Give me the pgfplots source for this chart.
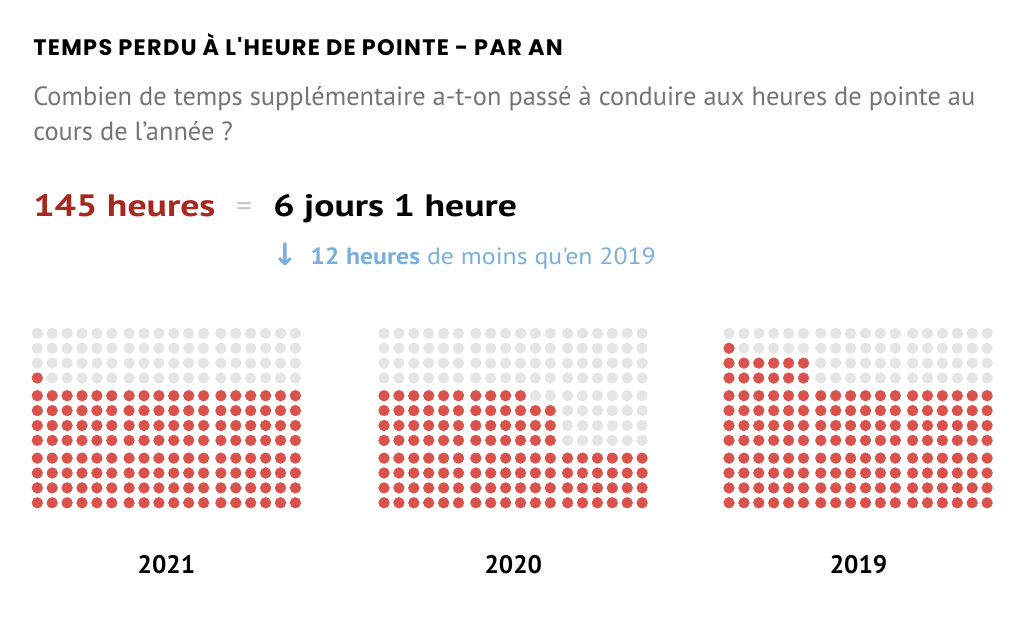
\documentclass[border=0pt]{standalone}
\usepackage{fontspec}
\setmainfont{PT Sans}
\newfontfamily\titlefont{Poppins}[LetterSpace=6]
\newfontfamily\bigfont{PT Sans}[FakeStretch=1.22]
\newfontfamily\notefont{PT Sans}[FakeStretch=1.1]
\newfontfamily\symfont{DejaVu Sans}
\usepackage{pgfplots}
\usepackage{pgfplotstable}
\pgfplotsset{compat=1.18}

\definecolor{dotred}{HTML}{D9534C}
\definecolor{dotgrey}{HTML}{E5E5E5}
\definecolor{darkred}{HTML}{A8271E}
\definecolor{subgrey}{HTML}{747474}
\definecolor{eqgrey}{HTML}{C8C8C8}
\definecolor{lightblue}{HTML}{7AAFDC}

% 1 = heure perdue, 0 = heure restante ; 12 lignes x 18 colonnes (9 jours de 24 h)
\pgfplotstableread{
c0 c1 c2 c3 c4 c5 c6 c7 c8 c9 c10 c11 c12 c13 c14 c15 c16 c17
0 0 0 0 0 0 0 0 0 0 0 0 0 0 0 0 0 0
0 0 0 0 0 0 0 0 0 0 0 0 0 0 0 0 0 0
0 0 0 0 0 0 0 0 0 0 0 0 0 0 0 0 0 0
1 0 0 0 0 0 0 0 0 0 0 0 0 0 0 0 0 0
1 1 1 1 1 1 1 1 1 1 1 1 1 1 1 1 1 1
1 1 1 1 1 1 1 1 1 1 1 1 1 1 1 1 1 1
1 1 1 1 1 1 1 1 1 1 1 1 1 1 1 1 1 1
1 1 1 1 1 1 1 1 1 1 1 1 1 1 1 1 1 1
1 1 1 1 1 1 1 1 1 1 1 1 1 1 1 1 1 1
1 1 1 1 1 1 1 1 1 1 1 1 1 1 1 1 1 1
1 1 1 1 1 1 1 1 1 1 1 1 1 1 1 1 1 1
1 1 1 1 1 1 1 1 1 1 1 1 1 1 1 1 1 1
}\yearA % 2021 : 145 h

\pgfplotstableread{
c0 c1 c2 c3 c4 c5 c6 c7 c8 c9 c10 c11 c12 c13 c14 c15 c16 c17
0 0 0 0 0 0 0 0 0 0 0 0 0 0 0 0 0 0
0 0 0 0 0 0 0 0 0 0 0 0 0 0 0 0 0 0
0 0 0 0 0 0 0 0 0 0 0 0 0 0 0 0 0 0
0 0 0 0 0 0 0 0 0 0 0 0 0 0 0 0 0 0
1 1 1 1 1 1 1 1 1 1 0 0 0 0 0 0 0 0
1 1 1 1 1 1 1 1 1 1 1 1 0 0 0 0 0 0
1 1 1 1 1 1 1 1 1 1 1 1 0 0 0 0 0 0
1 1 1 1 1 1 1 1 1 1 1 1 0 0 0 0 0 0
1 1 1 1 1 1 1 1 1 1 1 1 1 1 1 1 1 1
1 1 1 1 1 1 1 1 1 1 1 1 1 1 1 1 1 1
1 1 1 1 1 1 1 1 1 1 1 1 1 1 1 1 1 1
1 1 1 1 1 1 1 1 1 1 1 1 1 1 1 1 1 1
}\yearB % 2020 : 118 h

\pgfplotstableread{
c0 c1 c2 c3 c4 c5 c6 c7 c8 c9 c10 c11 c12 c13 c14 c15 c16 c17
0 0 0 0 0 0 0 0 0 0 0 0 0 0 0 0 0 0
1 0 0 0 0 0 0 0 0 0 0 0 0 0 0 0 0 0
1 1 1 1 1 1 0 0 0 0 0 0 0 0 0 0 0 0
1 1 1 1 1 1 0 0 0 0 0 0 0 0 0 0 0 0
1 1 1 1 1 1 1 1 1 1 1 1 1 1 1 1 1 1
1 1 1 1 1 1 1 1 1 1 1 1 1 1 1 1 1 1
1 1 1 1 1 1 1 1 1 1 1 1 1 1 1 1 1 1
1 1 1 1 1 1 1 1 1 1 1 1 1 1 1 1 1 1
1 1 1 1 1 1 1 1 1 1 1 1 1 1 1 1 1 1
1 1 1 1 1 1 1 1 1 1 1 1 1 1 1 1 1 1
1 1 1 1 1 1 1 1 1 1 1 1 1 1 1 1 1 1
1 1 1 1 1 1 1 1 1 1 1 1 1 1 1 1 1 1
}\yearC % 2019 : 157 h

\begin{document}
\begin{tikzpicture}
  \begin{axis}[
    width=768pt, height=462.75pt, scale only axis,
    xmin=0, xmax=1024, ymin=0, ymax=617, y dir=reverse,
    hide axis, clip=false,
    dots/.style={only marks, scatter, scatter src=explicit symbolic,
      mark size=4pt,
      scatter/classes={0={mark=*, draw=dotgrey, fill=dotgrey},
                       1={mark=*, draw=dotred, fill=dotred}}},
  ]
    \path (axis cs:0,0) rectangle (axis cs:1024,617);

    \pgfplotsinvokeforeach{0,...,17}{
      \addplot[dots] table[x expr={37.3+#1*14.9+int(#1/6)*2.4},
        y expr={333.3+\coordindex*14.9+int(\coordindex/4)*2.8}, meta=c#1]{\yearA};
      \addplot[dots] table[x expr={384+#1*14.9+int(#1/6)*2.4},
        y expr={333.3+\coordindex*14.9+int(\coordindex/4)*2.8}, meta=c#1]{\yearB};
      \addplot[dots] table[x expr={729+#1*14.9+int(#1/6)*2.4},
        y expr={333.3+\coordindex*14.9+int(\coordindex/4)*2.8}, meta=c#1]{\yearC};
    }

    \node[anchor=base west, inner sep=0pt, font=\titlefont\bfseries\fontsize{16.8}{18}\selectfont]
      at (axis cs:33,56) {TEMPS PERDU À L'HEURE DE POINTE - PAR AN};
    \node[anchor=base west, inner sep=0pt, text=subgrey, font=\fontsize{19.8}{22}\selectfont]
      at (axis cs:33,105) {Combien de temps supplémentaire a-t-on passé à conduire aux heures de pointe au};
    \node[anchor=base west, inner sep=0pt, text=subgrey, font=\fontsize{19.8}{22}\selectfont]
      at (axis cs:33,140) {cours de l'année ?};

    \node[anchor=base west, inner sep=0pt, text=darkred, font=\bigfont\bfseries\fontsize{23.2}{25}\selectfont]
      at (axis cs:33,216) {145 heures};
    \node[anchor=base, inner sep=0pt, text=eqgrey, font=\fontsize{23}{25}\selectfont]
      at (axis cs:244,216) {=};
    \node[anchor=base west, inner sep=0pt, font=\bigfont\bfseries\fontsize{23.2}{25}\selectfont]
      at (axis cs:273,216) {6 jours 1 heure};

    \node[anchor=base west, inner sep=0pt, text=lightblue, font=\symfont\bfseries\fontsize{23}{25}\selectfont]
      at (axis cs:272,265) {↓};
    \node[anchor=base west, inner sep=0pt, text=lightblue, font=\notefont\fontsize{17.6}{19}\selectfont]
      at (axis cs:310,264) {\textbf{12 heures} de moins qu'en 2019};

    \node[anchor=base, inner sep=0pt, font=\bfseries\fontsize{19}{21}\selectfont]
      at (axis cs:166.4,573) {2021};
    \node[anchor=base, inner sep=0pt, font=\bfseries\fontsize{19}{21}\selectfont]
      at (axis cs:513.3,573) {2020};
    \node[anchor=base, inner sep=0pt, font=\bfseries\fontsize{19}{21}\selectfont]
      at (axis cs:858.5,573) {2019};
  \end{axis}
\end{tikzpicture}
\end{document}
